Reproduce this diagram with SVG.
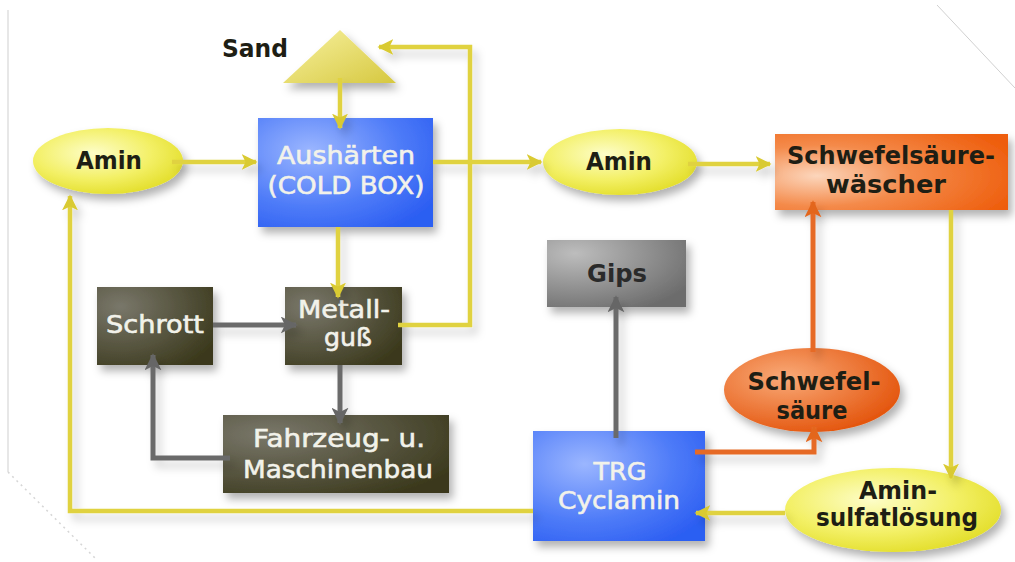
<svg xmlns="http://www.w3.org/2000/svg" width="1015" height="562" viewBox="0 0 1015 562">
<style>
.t{font-family:"DejaVu Sans",Verdana,sans-serif;font-weight:bold;font-size:24.5px;text-anchor:middle}
.dk{fill:#1e1e14}
.lt{fill:#f2f2ea;font-weight:normal;font-size:24.5px;stroke:#f2f2ea;stroke-width:0.6}
.y{fill:none;stroke:#e0d240;stroke-width:4.5;stroke-linejoin:miter}
.g{fill:none;stroke:#6a6a6a;stroke-width:5}
.o{fill:none;stroke:#e66a25;stroke-width:5}
</style>
<defs>
<filter id="sh" x="-20%" y="-20%" width="150%" height="160%"><feDropShadow dx="4" dy="6" stdDeviation="4" flood-color="#000" flood-opacity="0.3"/></filter>
<filter id="shl" x="-10%" y="-10%" width="130%" height="130%"><feDropShadow dx="5" dy="7" stdDeviation="4" flood-color="#000" flood-opacity="0.18"/></filter>
<radialGradient id="blue" cx="30%" cy="30%" r="85%"><stop offset="0" stop-color="#9bb6ff"/><stop offset="0.6" stop-color="#4f7cf8"/><stop offset="1" stop-color="#2c5ef2"/></radialGradient>
<radialGradient id="orBox" cx="18%" cy="55%" r="90%"><stop offset="0" stop-color="#fcd6bc"/><stop offset="0.45" stop-color="#f48a4a"/><stop offset="1" stop-color="#ee5d0c"/></radialGradient>
<radialGradient id="orEl" cx="35%" cy="35%" r="70%"><stop offset="0" stop-color="#f9aa78"/><stop offset="1" stop-color="#e4560e"/></radialGradient>
<radialGradient id="yel" cx="40%" cy="38%" r="65%"><stop offset="0" stop-color="#fdfdc8"/><stop offset="0.6" stop-color="#f3f066"/><stop offset="1" stop-color="#e4df2e"/></radialGradient>
<linearGradient id="sand" x1="0" y1="0" x2="1" y2="1"><stop offset="0" stop-color="#f8f2a0"/><stop offset="1" stop-color="#d6c840"/></linearGradient>
<radialGradient id="olive" cx="20%" cy="25%" r="95%"><stop offset="0" stop-color="#79776a"/><stop offset="1" stop-color="#3a381b"/></radialGradient>
<radialGradient id="gray" cx="20%" cy="20%" r="95%"><stop offset="0" stop-color="#bdbdbd"/><stop offset="1" stop-color="#6c6c6c"/></radialGradient>
<marker id="ay" viewBox="0 0 10 10" refX="9" refY="5" markerWidth="16" markerHeight="16" markerUnits="userSpaceOnUse" orient="auto"><path d="M0,0 L10,5 L0,10 L2.5,5 Z" fill="#d9ca30"/></marker>
<marker id="ag" viewBox="0 0 10 10" refX="9" refY="5" markerWidth="17" markerHeight="17" markerUnits="userSpaceOnUse" orient="auto"><path d="M0,0 L10,5 L0,10 L2.5,5 Z" fill="#666"/></marker>
<marker id="ao" viewBox="0 0 10 10" refX="9" refY="5" markerWidth="17" markerHeight="17" markerUnits="userSpaceOnUse" orient="auto"><path d="M0,0 L10,5 L0,10 L2.5,5 Z" fill="#e3661f"/></marker>
</defs>
<rect width="1015" height="562" fill="#fff"/>
<g id="page-edges" fill="none">
<line x1="8" y1="10" x2="8" y2="472" stroke="#cfcfcf" stroke-width="1"/>
<line x1="8" y1="472" x2="97" y2="560" stroke="#d6d6d6" stroke-width="1.5" stroke-dasharray="2 4"/>
<line x1="937" y1="5" x2="1015" y2="88" stroke="#d0d0d0" stroke-width="1"/>
</g>
<g id="nodes">
<g id="sand-node"><polygon points="340,30 396,83 283,83" fill="url(#sand)" filter="url(#sh)"/><text class="t dk" x="255" y="57" textLength="66" lengthAdjust="spacingAndGlyphs">Sand</text></g>
<g id="amin1"><ellipse cx="108" cy="161" rx="75" ry="33" fill="url(#yel)" filter="url(#sh)"/><text class="t dk" x="109" y="169" textLength="66" lengthAdjust="spacingAndGlyphs">Amin</text></g>
<g id="aushaerten"><rect x="258" y="118" width="175" height="109" fill="url(#blue)" filter="url(#sh)"/><text class="t lt" x="346" y="164" textLength="138" lengthAdjust="spacingAndGlyphs">Aushärten</text><text class="t lt" x="346" y="194" textLength="157" lengthAdjust="spacingAndGlyphs">(COLD BOX)</text></g>
<g id="amin2"><ellipse cx="620" cy="162" rx="77" ry="33" fill="url(#yel)" filter="url(#sh)"/><text class="t dk" x="619" y="170" textLength="66" lengthAdjust="spacingAndGlyphs">Amin</text></g>
<g id="waescher"><rect x="775" y="134" width="233" height="76" fill="url(#orBox)" filter="url(#sh)"/><text class="t dk" x="891" y="164" textLength="208" lengthAdjust="spacingAndGlyphs">Schwefelsäure-</text><text class="t dk" x="886" y="193" textLength="120" lengthAdjust="spacingAndGlyphs">wäscher</text></g>
<g id="gips"><rect x="547" y="240" width="139" height="67" fill="url(#gray)" filter="url(#sh)"/><text class="t" x="617" y="282" textLength="60" lengthAdjust="spacingAndGlyphs" fill="#2a2a2a">Gips</text></g>
<g id="schrott"><rect x="97" y="287" width="116" height="78" fill="url(#olive)" filter="url(#sh)"/><text class="t lt" x="155" y="333" textLength="98" lengthAdjust="spacingAndGlyphs">Schrott</text></g>
<g id="metallguss"><rect x="285" y="287" width="117" height="78" fill="url(#olive)" filter="url(#sh)"/><text class="t lt" x="344" y="318" textLength="92" lengthAdjust="spacingAndGlyphs">Metall-</text><text class="t lt" x="348" y="346" textLength="48" lengthAdjust="spacingAndGlyphs">guß</text></g>
<g id="fahrzeug"><rect x="223" y="415" width="226" height="78" fill="url(#olive)" filter="url(#sh)"/><text class="t lt" x="339" y="447" textLength="172" lengthAdjust="spacingAndGlyphs">Fahrzeug- u.</text><text class="t lt" x="338" y="478" textLength="190" lengthAdjust="spacingAndGlyphs">Maschinenbau</text></g>
<g id="trg"><rect x="533" y="431" width="172" height="110" fill="url(#blue)" filter="url(#sh)"/><text class="t lt" x="620" y="480" textLength="53" lengthAdjust="spacingAndGlyphs">TRG</text><text class="t lt" x="619" y="509" textLength="122" lengthAdjust="spacingAndGlyphs">Cyclamin</text></g>
<g id="schwefelsaeure"><ellipse cx="812" cy="390" rx="88" ry="42" fill="url(#orEl)" filter="url(#sh)"/><text class="t dk" x="814" y="390" textLength="133" lengthAdjust="spacingAndGlyphs">Schwefel-</text><text class="t dk" x="812" y="419" textLength="71" lengthAdjust="spacingAndGlyphs">säure</text></g>
<g id="aminsulfat"><ellipse cx="893" cy="510" rx="108" ry="42" fill="url(#yel)" filter="url(#sh)"/><text class="t dk" x="898" y="499" textLength="78" lengthAdjust="spacingAndGlyphs">Amin-</text><text class="t dk" x="897" y="526" textLength="162" lengthAdjust="spacingAndGlyphs">sulfatlösung</text></g>
</g>
<g id="connectors" filter="url(#shl)">
<path class="y" d="M340,78 V128" marker-end="url(#ay)"/>
<path class="y" d="M398,325 H470 V47 H379" marker-end="url(#ay)"/>
<path class="y" d="M172,162 H256" marker-end="url(#ay)"/>
<path class="y" d="M433,162 H541" marker-end="url(#ay)"/>
<path class="y" d="M688,164 H770" marker-end="url(#ay)"/>
<path class="y" d="M951,210 V478" marker-end="url(#ay)"/>
<path class="y" d="M785,513 H696" marker-end="url(#ay)"/>
<path class="y" d="M533,511 H70 V196" marker-end="url(#ay)"/>
<path class="y" d="M338,227 V297" marker-end="url(#ay)"/>
<path class="g" d="M616,438 V297" marker-end="url(#ag)"/>
<path class="g" d="M213,325 H296" marker-end="url(#ag)"/>
<path class="g" d="M340,365 V423" marker-end="url(#ag)"/>
<path class="g" d="M230,458 H153 V355" marker-end="url(#ag)"/>
<path class="o" d="M695,452 H814 V427" marker-end="url(#ao)"/>
<path class="o" d="M813,352 V202" marker-end="url(#ao)"/>
</g>
</svg>
